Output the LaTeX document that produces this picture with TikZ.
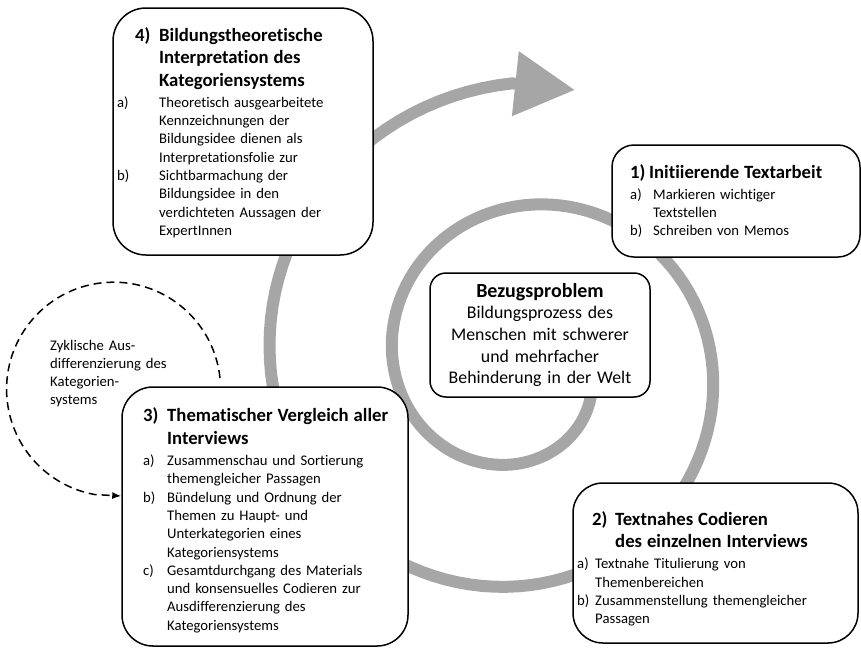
\documentclass[tikz,border=0pt]{standalone}
\usepackage{fontspec}
\setmainfont{Carlito}[Ligatures={NoCommon}]
\usetikzlibrary{arrows.meta}
\definecolor{spiralgrau}{RGB}{166,166,166}

\newcommand{\kopf}[4]{{\fontsize{18.7pt}{22.5pt}\selectfont\bfseries
  \leftskip=#1\relax\hangindent=#2\relax\hangafter=1\noindent\makebox[#2][l]{#3}#4\par}\vspace{3pt}}
\newcommand{\punkt}[4]{{\leftskip=#1\relax\hangindent=#2\relax\hangafter=1\noindent\makebox[#2][l]{#3}#4\par}}

\tikzset{
  stufe/.style={draw, line width=1.5pt, fill=white, rounded corners=#1, inner sep=0pt},
  inhalt/.style={anchor=base west, inner sep=0pt, text width=280pt, align=left,
    font=\fontsize{14.7pt}{18.3pt}\selectfont},
  spirale/.style={draw=spiralgrau, line width=12pt},
  zyklus/.style={draw, line width=1.5pt, dash pattern=on 8pt off 5pt, -{Latex[length=9pt,width=7pt]}}
}

\begin{document}
\begin{tikzpicture}[x=1pt,y=-1pt]
	\useasboundingbox (0,0) rectangle (861,648);

	\draw[spirale,-{Triangle[length=60pt,width=62pt]}] plot[domain=10:628,samples=200]
		({522+(67.25+0.341667*\x)*cos(\x)},{365+(67.25+0.341667*\x)*sin(\x)}) -- (575,90);

	\node[stufe=33pt,minimum width=260pt,minimum height=247pt] (s4) at (243,131.5) {};
	\node[stufe=22pt,minimum width=248pt,minimum height=112pt] (s1) at (736,201) {};
	\node[stufe=31pt,minimum width=286pt,minimum height=259pt] (s3) at (265,516.5) {};
	\node[stufe=30pt,minimum width=285pt,minimum height=160pt] (s2) at (715.5,563) {};
	\node[stufe=16pt,minimum width=220pt,minimum height=124pt,text width=204pt,align=center,
		font=\fontsize{17.8pt}{21.7pt}\selectfont] (bz) at (540,335)
		{{\fontsize{20pt}{22pt}\selectfont\bfseries Bezugsproblem\par}Bildungsprozess des\\Menschen mit schwerer\\und mehrfacher\\Behinderung in der Welt};

	\node[inhalt] (s4t) at (117,41) {%
		\kopf{18pt}{24pt}{4)}{Bildungstheoretische\newline Interpretation des\newline Kategoriensystems}%
		\punkt{0pt}{42pt}{a)}{Theoretisch ausgearbeitete\newline Kennzeichnungen der\newline Bildungsidee dienen als\newline Interpretationsfolie zur}%
		\punkt{0pt}{42pt}{b)}{Sichtbarmachung der\newline Bildungsidee in den\newline verdichteten Aussagen der\newline ExpertInnen}};
	\node[inhalt] (s1t) at (630,178) {%
		\kopf{0pt}{19pt}{1)}{Initiierende Textarbeit}%
		\punkt{0pt}{23pt}{a)}{Markieren wichtiger\newline Textstellen}%
		\punkt{0pt}{23pt}{b)}{Schreiben von Memos}};
	\node[inhalt] (s3t) at (143,421.7) {%
		\kopf{0pt}{24pt}{3)}{Thematischer Vergleich aller\newline Interviews}%
		\punkt{0pt}{24pt}{a)}{Zusammenschau und Sortierung\newline themengleicher Passagen}%
		\punkt{0pt}{24pt}{b)}{Bündelung und Ordnung der\newline Themen zu Haupt- und\newline Unterkategorien eines\newline Kategoriensystems}%
		\punkt{0pt}{24pt}{c)}{Gesamtdurchgang des Materials\newline und konsensuelles Codieren zur\newline Ausdifferenzierung des\newline Kategoriensystems}};
	\node[inhalt] (s2t) at (577,525) {%
		\kopf{15pt}{23pt}{2)}{Textnahes Codieren\newline des einzelnen Interviews}%
		\punkt{0pt}{18pt}{a)}{Textnahe Titulierung von\newline Themenbereichen}%
		\punkt{0pt}{18pt}{b)}{Zusammenstellung themengleicher\newline Passagen}};

	\node[inhalt,text width=130pt] (zn) at (50,350) {Zyklische Aus-\\differenzierung des\\Kategorien-\\systems};
	\coordinate (zs) at (220,378);
	\coordinate (ze) at (0,496);
	\draw[zyklus] (zs) arc[start angle=-6,end angle=-260,radius=107] -- (s3.west |- ze);
\end{tikzpicture}
\end{document}
